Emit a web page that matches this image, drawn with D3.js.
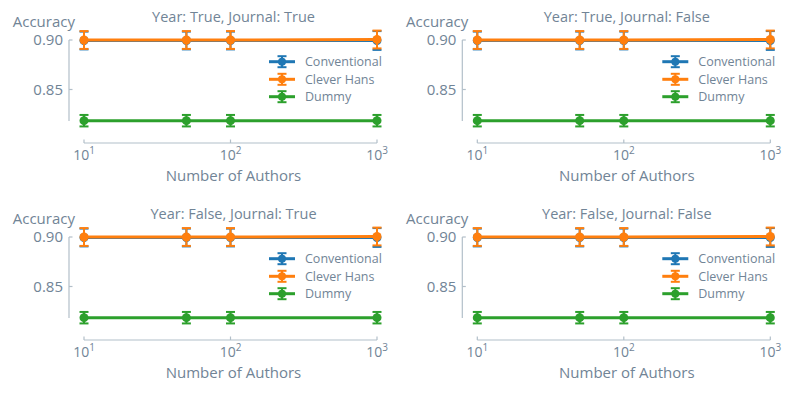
<!DOCTYPE html>
<html><head><meta charset="utf-8">
<script src="https://cdn.jsdelivr.net/npm/d3@7"></script>
<style>body{margin:0;background:#fff}svg{display:block}text{font-family:"Open Sans",Lato,sans-serif}</style>
</head><body>
<script>
const panelTitles = ["Year: True, Journal: True","Year: True, Journal: False","Year: False, Journal: True","Year: False, Journal: False"];
const authors = [10, 50, 100, 1000];
const seriesNames = ["Conventional","Clever Hans","Dummy"];
const colors = ["#1f77b4","#ff7f0e","#2ca02c"];
const conventional = [0.8995, 0.8995, 0.8995, 0.8995];
const conventionalErr = [0.009, 0.009, 0.009, 0.0095];
const cleverHans = [0.9000, 0.9000, 0.9000, 0.9005];
const cleverHansErr = [0.009, 0.009, 0.009, 0.009];
const dummy = [0.8185, 0.8185, 0.8185, 0.8185];
const dummyErr = [0.0058, 0.0058, 0.0058, 0.0058];
const yTicks = [0.90, 0.85];
const xTicks = [10, 100, 1000];
const xLabel = "Number of Authors", yLabel = "Accuracy";

const values = [conventional, cleverHans, dummy];
const errs = [conventionalErr, cleverHansErr, dummyErr];
const textCol = "#718496", spineCol = "#b2bfc9";

const svg = d3.select("body").append("svg").attr("width",792).attr("height",393);
const origins = [[0,0],[393.3,0],[0,197],[393.3,197]];

panelTitles.forEach((title, pi) => {
  const g = svg.append("g").attr("transform",`translate(${origins[pi][0]},${origins[pi][1]})`);
  const x = d3.scaleLog().domain([10,1000]).range([84,377]);
  const y = d3.scaleLinear().domain([0.90,0.85]).range([40,89.5]);
  const spineX = 69, axisY = 143;

  g.append("line").attr("x1",spineX).attr("x2",spineX).attr("y1",y(0.90)).attr("y2",y(0.8183))
    .attr("stroke",spineCol).attr("stroke-width",1.2);
  yTicks.forEach(t => {
    g.append("line").attr("x1",spineX).attr("x2",spineX+3.5).attr("y1",y(t)).attr("y2",y(t)).attr("stroke",spineCol).attr("stroke-width",1.2);
    g.append("text").attr("x",spineX-6).attr("y",y(t)).attr("dy","0.35em").attr("text-anchor","end")
      .attr("font-size",15).attr("fill",textCol).text(d3.format(".2f")(t));
  });
  g.append("line").attr("x1",x(10)).attr("x2",x(1000)).attr("y1",axisY).attr("y2",axisY).attr("stroke",spineCol).attr("stroke-width",1.2);
  xTicks.forEach(t => {
    g.append("line").attr("x1",x(t)).attr("x2",x(t)).attr("y1",axisY).attr("y2",axisY-3.5).attr("stroke",spineCol).attr("stroke-width",1.2);
    const tx = g.append("text").attr("x",x(t)).attr("y",160).attr("text-anchor","middle").attr("font-size",14).attr("fill",textCol);
    tx.append("tspan").text("10");
    tx.append("tspan").attr("dy",-6).attr("font-size",10).text(String(Math.round(Math.log10(t))));
  });
  g.append("text").attr("x",(x(10)+x(1000))/2+3).attr("y",181).attr("text-anchor","middle").attr("font-size",15).attr("fill",textCol).text(xLabel);
  g.append("text").attr("x",(x(10)+x(1000))/2+3).attr("y",22).attr("text-anchor","middle").attr("font-size",14.5).attr("fill",textCol).text(title);
  g.append("text").attr("x",75).attr("y",26.5).attr("text-anchor","end").attr("font-size",15).attr("fill",textCol).text(yLabel);

  values.forEach((vals, si) => {
    const c = colors[si];
    const pts = authors.map((a,i)=>({a, v:vals[i], e:errs[si][i]}));
    g.append("path").datum(pts).attr("fill","none").attr("stroke",c).attr("stroke-width",3)
      .attr("d", d3.line().x(d=>x(d.a)).y(d=>y(d.v)));
    pts.forEach(d => {
      const cx = x(d.a), y1 = y(d.v+d.e), y2 = y(d.v-d.e);
      g.append("line").attr("x1",cx).attr("x2",cx).attr("y1",y1).attr("y2",y2).attr("stroke",c).attr("stroke-width",2);
      [y1,y2].forEach(yy => g.append("line").attr("x1",cx-4.5).attr("x2",cx+4.5).attr("y1",yy).attr("y2",yy).attr("stroke",c).attr("stroke-width",2));
      g.append("circle").attr("cx",cx).attr("cy",y(d.v)).attr("r",4.5).attr("fill",c);
    });
  });

  const legY = [61.7, 79.3, 96.7];
  seriesNames.forEach((n, si) => {
    const c = colors[si], ly = legY[si], lx0 = 269, lx1 = 295, mx = (lx0+lx1)/2;
    g.append("line").attr("x1",lx0).attr("x2",lx1).attr("y1",ly).attr("y2",ly).attr("stroke",c).attr("stroke-width",3);
    g.append("line").attr("x1",mx).attr("x2",mx).attr("y1",ly-5.5).attr("y2",ly+5.5).attr("stroke",c).attr("stroke-width",2);
    [ly-5.5, ly+5.5].forEach(yy => g.append("line").attr("x1",mx-4.5).attr("x2",mx+4.5).attr("y1",yy).attr("y2",yy).attr("stroke",c).attr("stroke-width",2));
    g.append("circle").attr("cx",mx).attr("cy",ly).attr("r",4).attr("fill",c);
    g.append("text").attr("x",305).attr("y",ly).attr("dy","0.35em").attr("font-size",12.5).attr("fill",textCol).text(n);
  });
});
</script>
</body></html>
